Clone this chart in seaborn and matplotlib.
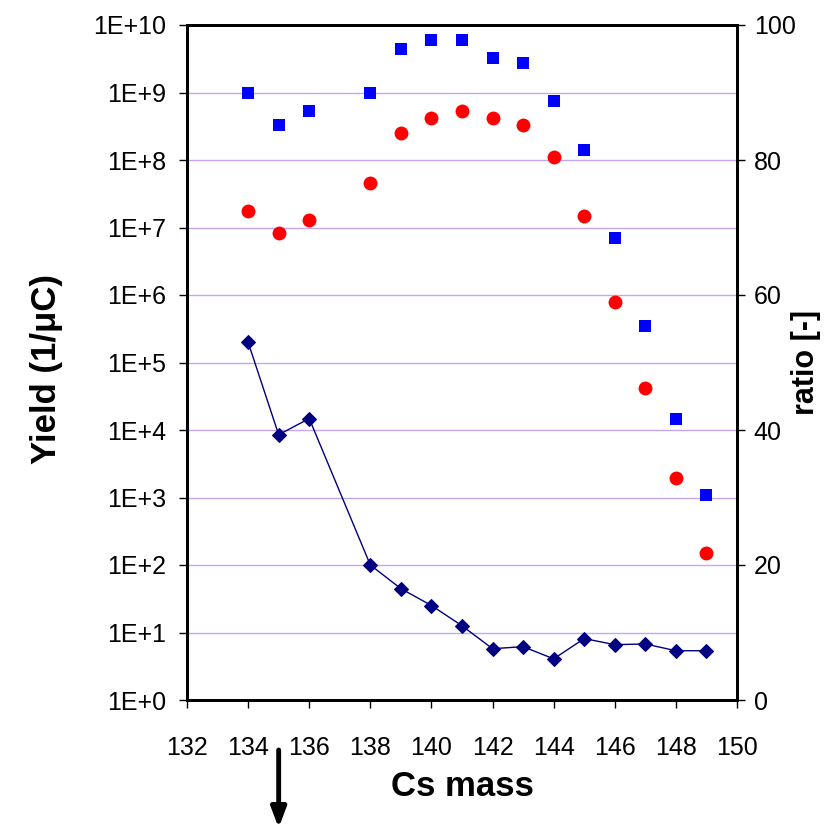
import numpy as np
import pandas as pd
import matplotlib
matplotlib.use('Agg')
import matplotlib.pyplot as plt
from matplotlib.ticker import FixedLocator, FuncFormatter, NullLocator
import seaborn as sns

# ---- data ----
mass = [134, 135, 136, 138, 139, 140, 141, 142, 143, 144, 145, 146, 147, 148, 149]
yield_blue = [9.8e8, 3.3e8, 5.4e8, 9.8e8, 4.4e9, 6.0e9, 6.0e9, 3.2e9, 2.7e9,
              7.4e8, 1.4e8, 7.1e6, 3.5e5, 1.45e4, 1.1e3]
yield_red = [1.74e7, 8.3e6, 1.29e7, 4.6e7, 2.5e8, 4.2e8, 5.4e8, 4.2e8, 3.3e8,
             1.12e8, 1.5e7, 7.9e5, 4.2e4, 1.95e3, 1.5e2]
ratio = [53.0, 39.3, 41.7, 20.0, 16.5, 14.0, 11.0, 7.6, 7.9, 6.1, 9.1, 8.2, 8.3, 7.3, 7.3]

x_ticks = [132, 134, 136, 138, 140, 142, 144, 146, 148, 150]
y_ticks = [10.0 ** k for k in range(0, 11)]
r_ticks = [0, 20, 40, 60, 80, 100]

df = pd.DataFrame({"mass": mass, "blue": yield_blue, "red": yield_red, "ratio": ratio})

sns.set_style("white")
plt.rcParams["font.family"] = ["Liberation Sans", "DejaVu Sans"]
plt.rcParams["text.color"] = "black"
plt.rcParams["axes.labelcolor"] = "black"
plt.rcParams["xtick.color"] = "black"
plt.rcParams["ytick.color"] = "black"

fig = plt.figure(figsize=(8.36, 8.33), dpi=100)
ax = fig.add_axes([187 / 836, 1 - 700 / 833, 550 / 836, 675 / 833])
ax2 = ax.twinx()

# left log axis
ax.set_yscale("log")
ax.set_ylim(1, 1e10)
ax.set_xlim(132, 150)
for k in range(1, 10):
    ax.axhline(10.0 ** k, color="#C4A6F5", lw=1.0, zorder=0)

sns.scatterplot(data=df, x="mass", y="blue", ax=ax, marker="s", s=85,
                color="#0000FF", edgecolor="#0000FF", linewidth=0, zorder=3)
sns.scatterplot(data=df, x="mass", y="red", ax=ax, marker="o", s=100,
                color="#FF0000", edgecolor="#FF0000", linewidth=0, zorder=3)

ax.yaxis.set_major_locator(FixedLocator(y_ticks))
ax.yaxis.set_minor_locator(NullLocator())
ax.yaxis.set_major_formatter(FuncFormatter(lambda v, p: f"1E+{int(round(np.log10(v)))}"))
ax.xaxis.set_major_locator(FixedLocator(x_ticks))
ax.xaxis.set_major_formatter(FuncFormatter(lambda v, p: f"{int(v)}"))

# right ratio axis
sns.lineplot(data=df, x="mass", y="ratio", ax=ax2, color="#000080", lw=1.0,
             marker="D", markersize=7, markeredgecolor="#000080", zorder=4)
ax2.set_ylim(0, 100)
ax2.yaxis.set_major_locator(FixedLocator(r_ticks))
ax2.set_xlim(132, 150)

for a in (ax, ax2):
    for sp in a.spines.values():
        sp.set_visible(True)
        sp.set_color("black")
        sp.set_linewidth(2.0)

ax.tick_params(axis="y", which="major", direction="out", length=6, width=1,
               labelsize=18, pad=9, left=True, colors="black")
ax.tick_params(axis="x", which="major", direction="out", length=6, width=1,
               labelsize=18, pad=20, bottom=True, colors="black")
ax2.tick_params(axis="y", which="major", direction="out", length=6, width=1,
                labelsize=18, pad=6, right=True, colors="black")

ax.set_xlabel("Cs mass", fontsize=25, fontweight="bold", color="black")
ax.set_ylabel("Yield (1/μC)", fontsize=25, fontweight="bold", color="black")
ax2.set_ylabel("ratio [-]", fontsize=22, fontweight="bold", color="black")
ax.xaxis.label.set_va("center")
ax.yaxis.label.set_va("center")
ax2.yaxis.label.set_va("center")
ax.xaxis.set_label_coords(0.5, (700 - 787) / 675)
ax.yaxis.set_label_coords((47 - 187) / 550, 0.49)
ax2.yaxis.set_label_coords((806 - 187) / 550, 0.5)

ax.grid(False)
ax2.grid(False)

# downward arrow below the x axis at mass 135
ax.annotate("", xy=(135, (700 - 828) / 675), xytext=(135, (700 - 750) / 675),
            xycoords=ax.get_xaxis_transform(), textcoords=ax.get_xaxis_transform(),
            annotation_clip=False,
            arrowprops=dict(arrowstyle="-|>,head_length=1.2,head_width=0.45",
                            color="black", lw=3.5, shrinkA=0, shrinkB=0))

fig.savefig("out.png", dpi=100)
